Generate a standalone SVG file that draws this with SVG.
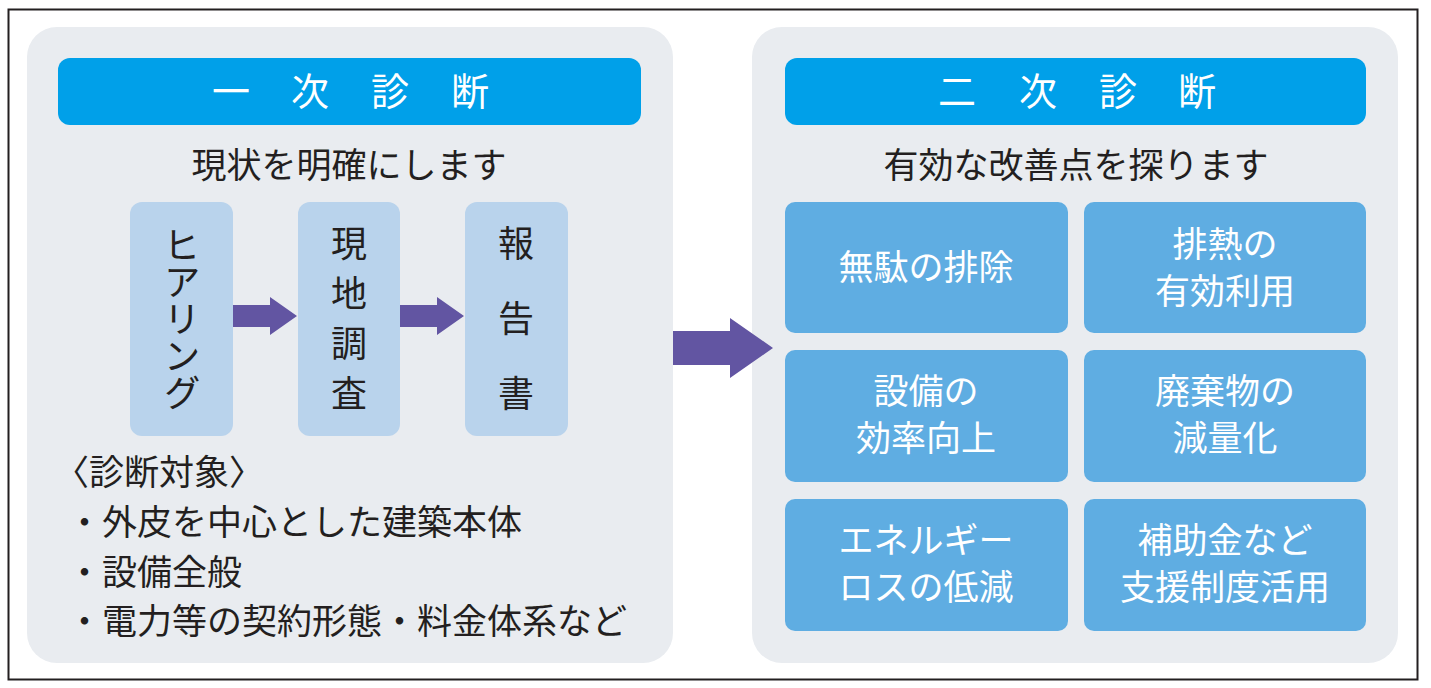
<svg xmlns="http://www.w3.org/2000/svg" width="1431" height="688" viewBox="0 0 1431 688">
<style>
text{font-family:"Noto Sans CJK JP","Noto Sans CJK SC",sans-serif;}
.panel{fill:#e9ecf0;}
.hdr{fill:#00a0e9;}
.hdrt{fill:#ffffff;font-size:38px;text-anchor:middle;}
.sub{fill:#231f20;font-size:35px;text-anchor:middle;}
.step{fill:#b9d3ec;}
.stept{fill:#231f20;font-size:36px;writing-mode:vertical-rl;}
.cell{fill:#5fade2;}
.cellt{fill:#ffffff;font-size:35px;text-anchor:middle;}
.lst{fill:#231f20;font-size:35px;}
.arr{fill:#6255a2;}
</style>
<rect x="0" y="0" width="1431" height="688" fill="#ffffff"/>
<rect x="8.5" y="9.5" width="1409" height="670" fill="none" stroke="#231f20" stroke-width="2"/>

<g id="panel1">
<rect class="panel" x="27" y="27" width="646" height="636" rx="30"/>
<g id="header1">
<rect class="hdr" x="58" y="58" width="583" height="67" rx="12"/>
<text class="hdrt" x="231" y="105">一</text>
<text class="hdrt" x="310" y="105">次</text>
<text class="hdrt" x="390" y="105">診</text>
<text class="hdrt" x="470" y="105">断</text>
</g>
<text class="sub" x="349" y="178">現状を明確にします</text>
</g>

<g id="step-hearing">
<rect class="step" x="130" y="202" width="103" height="234" rx="12"/>
<text class="stept" x="182" y="226" style="font-size:37px">ヒアリング</text>
</g>
<g id="step-survey">
<rect class="step" x="298" y="202" width="102" height="234" rx="12"/>
<text class="stept" x="349" y="225" letter-spacing="14">現地調査</text>
</g>
<g id="step-report">
<rect class="step" x="465" y="202" width="103" height="234" rx="12"/>
<text class="stept" x="516" y="225" letter-spacing="39">報告書</text>
</g>

<g id="targets">
<text class="lst" x="54" y="485">〈診断対象〉</text>
<text class="lst" x="67" y="535">・外皮を中心とした建築本体</text>
<text class="lst" x="67" y="585">・設備全般</text>
<text class="lst" x="67" y="634">・電力等の契約形態・料金体系など</text>
</g>

<g id="panel2">
<rect class="panel" x="752" y="27" width="646" height="636" rx="30"/>
<g id="header2">
<rect class="hdr" x="785" y="58" width="581" height="67" rx="12"/>
<text class="hdrt" x="957" y="105">二</text>
<text class="hdrt" x="1038" y="105">次</text>
<text class="hdrt" x="1118" y="105">診</text>
<text class="hdrt" x="1197" y="105">断</text>
</g>
<text class="sub" x="1076" y="178">有効な改善点を探ります</text>
</g>

<g id="cell-muda">
<rect class="cell" x="785" y="202" width="283" height="131" rx="10"/>
<text class="cellt" x="926" y="280">無駄の排除</text>
</g>
<g id="cell-hainetsu">
<rect class="cell" x="1084" y="202" width="282" height="131" rx="10"/>
<text class="cellt" x="1225" y="257">排熱の</text>
<text class="cellt" x="1225" y="304">有効利用</text>
</g>
<g id="cell-setsubi">
<rect class="cell" x="785" y="350" width="283" height="132" rx="10"/>
<text class="cellt" x="926" y="404">設備の</text>
<text class="cellt" x="926" y="451">効率向上</text>
</g>
<g id="cell-haiki">
<rect class="cell" x="1084" y="350" width="282" height="132" rx="10"/>
<text class="cellt" x="1225" y="404">廃棄物の</text>
<text class="cellt" x="1225" y="451">減量化</text>
</g>
<g id="cell-energy">
<rect class="cell" x="785" y="499" width="283" height="132" rx="10"/>
<text class="cellt" x="926" y="553">エネルギー</text>
<text class="cellt" x="926" y="600">ロスの低減</text>
</g>
<g id="cell-hojo">
<rect class="cell" x="1084" y="499" width="282" height="132" rx="10"/>
<text class="cellt" x="1225" y="553">補助金など</text>
<text class="cellt" x="1225" y="600">支援制度活用</text>
</g>

<g id="connectors">
<polygon class="arr" points="233,305 270,305 270,297 297,316 270,335 270,327 233,327"/>
<polygon class="arr" points="400,305 437,305 437,297 464,316 437,335 437,327 400,327"/>
<polygon class="arr" points="673,331 730,331 730,318 773,348 730,378 730,365 673,365"/>
</g>
</svg>
